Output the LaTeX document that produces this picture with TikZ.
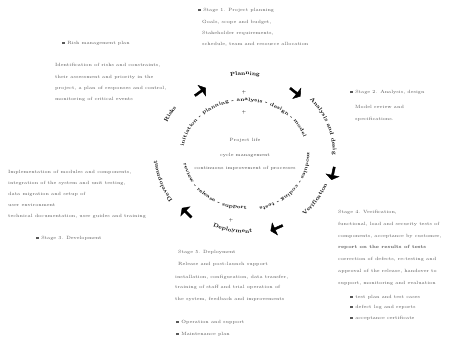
\documentclass[tikz,border=0pt]{standalone}
\usetikzlibrary{decorations.text,shapes.arrows}
\begin{document}
\begin{tikzpicture}[x=1bp,y=1bp,
  txt/.style={font=\fontsize{4.6}{10}\selectfont, text=black!65, anchor=west, inner sep=0pt},
  ctr/.style={font=\fontsize{4.6}{10}\selectfont, text=black!70, inner sep=0pt},
  bul/.style={txt, execute at begin node={\rule{2.6bp}{2.6bp}\hspace{2.5bp}}},
  blob/.style={single arrow, fill=black, draw=black, minimum height=13bp, minimum width=13bp,
     single arrow head extend=1bp, single arrow tip angle=110, inner sep=0pt},
  arctext/.style={decorate, decoration={text along path, text align=center,
     text={|\fontsize{5.5}{6}\selectfont\bfseries|#1}}},
  ringtext/.style={decorate, decoration={text along path, text align=center,
     text={|\fontsize{5}{6}\selectfont\bfseries|#1}}}
]
\useasboundingbox (0,0) rectangle (456,338);
\coordinate (C) at (245,183);

% top block
\node[bul] (t0) at (198,328) {Stage 1. Project planning};
\node[txt] (t1) at (202,316) {Goals, scope and budget,};
\node[txt] (t2) at (202,305) {Stakeholder requirements,};
\node[txt] (t3) at (202,294) {schedule, team and resource allocation};

% top-left block
\node[bul] (tl0) at (62,295) {Risk management plan};
\node[txt] (tl1) at (55,273) {Identification of risks and constraints,};
\node[txt] (tl2) at (55,261) {their assessment and priority in the};
\node[txt] (tl3) at (55,250) {project, a plan of responses and control,};
\node[txt] (tl4) at (55,239) {monitoring of critical events};

% right block
\node[bul] (r0) at (350,246) {Stage 2. Analysis, design};
\node[txt] (r1) at (355,231) {Model review and};
\node[txt] (r2) at (355,219) {specifications.};

% left block
\node[txt] (l1) at (8,166) {Implementation of modules and components,};
\node[txt] (l2) at (8,155) {integration of the system and unit testing,};
\node[txt] (l3) at (8,144) {data migration and setup of};
\node[txt] (l4) at (8,133) {user environment};
\node[txt] (l5) at (8,122) {technical documentation, user guides and training};
\node[bul] (l6) at (36,100) {Stage 3. Development};

% bottom-right block
\node[txt] (br1) at (338,126) {Stage 4. Verification,};
\node[txt] (br2) at (338,114) {functional, load and security tests of};
\node[txt] (br3) at (338,102) {components, acceptance by customer,};
\node[txt] (br4) at (338,91) {\textbf{report on the results of tests}};
\node[txt] (br5) at (338,79) {correction of defects, re-testing and};
\node[txt] (br6) at (338,67) {approval of the release, handover to};
\node[txt] (br7) at (338,55) {support, monitoring and evaluation};
\node[bul] (bb1) at (350,41) {test plan and test cases};
\node[bul] (bb2) at (350,31) {defect log and reports};
\node[bul] (bb3) at (350,20) {acceptance certificate};

% bottom-center block
\node[txt] (bc1) at (178,86) {Stage 5. Deployment};
\node[txt] (bc2) at (178,74) {Release and post-launch support};
\node[txt] (bc3) at (175,61) {installation, configuration, data transfer,};
\node[txt] (bc4) at (175,51) {training of staff and trial operation of};
\node[txt] (bc5) at (175,39) {the system, feedback and improvements};
\node[bul] (bc6) at (176,16) {Operation and support};
\node[bul] (bc7) at (176,4) {Maintenance plan};

% centre
\node[ctr] (c1) at (245,198) {Project life};
\node[ctr] (c2) at (245,183) {cycle management};
\node[ctr] (c3) at (245,170) {continuous improvement of processes};

% inner ring
\path[ringtext={initiation - planning - analysis - design - model}]
  (C) ++(178:62bp and 54bp) arc[start angle=178,end angle=12,x radius=62bp,y radius=54bp];
\path[ringtext={modules - coding - tests}]
  (C) ++(4:62bp and 54bp) arc[start angle=4,end angle=-78,x radius=62bp,y radius=54bp];
\path[ringtext={review - release - support}]
  (C) ++(185:62bp and 54bp) arc[start angle=185,end angle=275,x radius=62bp,y radius=54bp];
\node[ctr, text=black] (m1) at (244,246) {+};
\node[ctr, text=black] (m2) at (244,226) {+};
\node[ctr, text=black] (m3) at (231,118) {+};

% outer arcs
\path[arctext={Planning}]
  (C) ++(103:85bp and 80bp) arc[start angle=103,end angle=77,x radius=85bp,y radius=80bp];
\path[arctext={Analysis and design}]
  (C) ++(40:88bp and 82bp) arc[start angle=40,end angle=0,x radius=88bp,y radius=82bp];
\path[arctext={Verification}]
  (C) ++(-60:88bp and 82bp) arc[start angle=-60,end angle=-8,x radius=88bp,y radius=82bp];
\path[arctext={Deployment}]
  (C) ++(240:82bp and 78bp) arc[start angle=240,end angle=282,x radius=82bp,y radius=78bp];
\path[arctext={Development}]
  (C) ++(222:88bp and 80bp) arc[start angle=222,end angle=176,x radius=88bp,y radius=80bp];
\path[arctext={Risks}]
  (C) ++(160:85bp and 80bp) arc[start angle=160,end angle=140,x radius=85bp,y radius=80bp];

% arrows
\node[blob, rotate=36]   (a1) at (200,246) {};
\node[blob, rotate=-38]  (a2) at (295,246) {};
\node[blob, rotate=-102] (a3) at (333,165) {};
\node[blob, rotate=-156] (a4) at (277,110) {};
\node[blob, rotate=135]  (a5) at (187,125) {};
\end{tikzpicture}
\end{document}
